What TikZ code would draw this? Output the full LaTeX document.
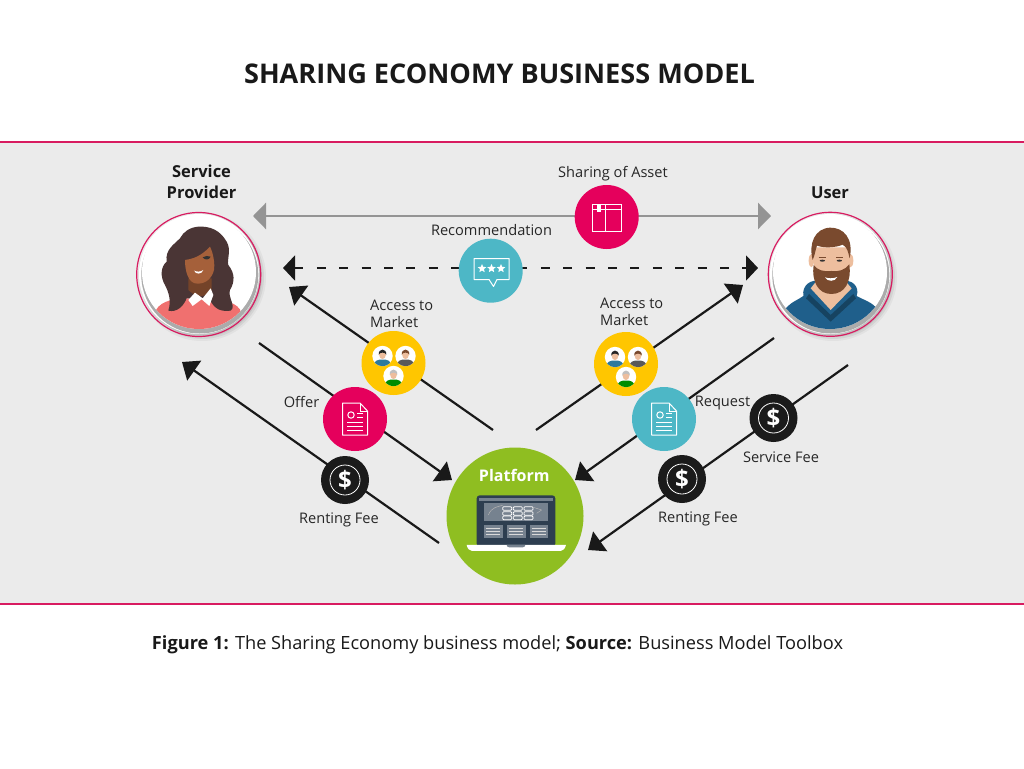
\documentclass[tikz,border=0pt]{standalone}
\usepackage{fontspec}
\setmainfont{Open Sans}
\usetikzlibrary{arrows.meta,shapes.geometric}
\definecolor{bandgray}{HTML}{EBEBEB}
\definecolor{linepink}{HTML}{D81B60}
\definecolor{iconpink}{HTML}{E5005C}
\definecolor{iconteal}{HTML}{4DB7C6}
\definecolor{iconyellow}{HTML}{FFC600}
\definecolor{icongreen}{HTML}{8FBE21}
\definecolor{iconblack}{HTML}{1B1B1B}
\definecolor{arrowgray}{HTML}{949494}
\definecolor{hairdark}{HTML}{4A3535}
\definecolor{skinbrown}{HTML}{A5603A}
\definecolor{blouse}{HTML}{F0706F}
\definecolor{hoodie}{HTML}{1F5F8B}
\definecolor{beard}{HTML}{7A4A2E}
\definecolor{skinlight}{HTML}{EDBE9E}
\definecolor{screendark}{HTML}{2D3E50}
\definecolor{screenpanel}{HTML}{76828F}
\tikzset{
  iconcircle/.style={circle,minimum size=64pt,inner sep=0pt,fill=#1},
  dollarcircle/.style={circle,minimum size=48pt,inner sep=0pt,fill=iconblack},
  label/.style={font=\fontsize{14.6}{17}\selectfont,text=black!85,inner sep=0pt},
  heading/.style={font=\fontsize{16.5}{21}\selectfont\bfseries,text=black!90,inner sep=0pt,align=center},
  flow/.style={line width=2.2pt,black!90,-{Triangle[length=15pt,width=24pt]}},
  iconline/.style={draw=white,line width=1pt},
  document icon/.pic={
    \draw[iconline,line join=round] (-12.5,-16) -- (5,-16) -- (12.5,-8) -- (12.5,16) -- (-12.5,16) -- cycle;
    \draw[iconline] (5,-16) -- (5,-8) -- (12.5,-8);
    \draw[iconline] (-4,-4) circle (3.2);
    \draw[iconline] (2,-5.5) -- (8,-5.5) (2,-2) -- (8,-2);
    \draw[iconline] (-8,3) -- (8,3) (-8,7) -- (8,7) (-8,11) -- (8,11);
  },
  dollar icon/.pic={
    \draw[white,line width=.8pt] (0,0) circle (15);
    \node[text=white,font=\fontsize{24}{24}\selectfont\bfseries,inner sep=0pt] (-sign) at (0,0) {\$};
  },
  small person/.pic={
    \fill[white] (0,0) circle (10.2);
    \begin{scope}
      \clip (0,0) circle (10.2);
      \fill[shirtcolor] (-9,11) .. controls (-9,4) and (-4,3.5) .. (0,3.5) .. controls (4,3.5) and (9,4) .. (9,11) -- cycle;
      \fill[skinlight] (0,-1.5) ellipse (3.4 and 4.6);
      \fill[haircolor] (-3.8,-1.5) .. controls (-4.2,-8) and (4.2,-8) .. (3.8,-1.5) .. controls (2.5,-4) and (-2.5,-4) .. (-3.8,-1.5) -- cycle;
    \end{scope}
  },
  market icon/.pic={
    \colorlet{shirtcolor}{hoodie!70!iconteal}\colorlet{haircolor}{black!85}
    \pic at (-11,-7) {small person};
    \colorlet{shirtcolor}{black!65}\colorlet{haircolor}{beard}
    \pic at (12,-7) {small person};
    \colorlet{shirtcolor}{green!55!black}\colorlet{haircolor}{black!25}
    \pic at (0,13) {small person};
  },
}
\begin{document}
\begin{tikzpicture}[x=1pt,y=-1pt]
  \useasboundingbox (0,0) rectangle (1024,768);
  \fill[white] (0,0) rectangle (1024,768);
  % band
  \fill[bandgray] (0,142) rectangle (1024,604);
  \draw[linepink,line width=1.6pt] (0,142) -- (1024,142);
  \draw[linepink,line width=1.6pt] (0,604) -- (1024,604);
  \node[font=\fontsize{27.1}{30}\selectfont\bfseries,text=black!90,inner sep=0pt] (title) at (499.5,74) {SHARING ECONOMY BUSINESS MODEL};
  \node[font=\fontsize{18.2}{20}\selectfont,text=black!90,inner sep=0pt] (caption) at (497.5,644.5) {\textbf{Figure 1:} The Sharing Economy business model; \textbf{Source:} Business Model Toolbox};

  % line ends
  \coordinate (assetleft) at (253,216);
  \coordinate (assetright) at (771,216);
  \coordinate (recleft) at (283,268);
  \coordinate (recright) at (758,268);
  \coordinate (accessLstart) at (493,430);
  \coordinate (accessLend) at (289,287);
  \coordinate (offerstart) at (259,343);
  \coordinate (offerend) at (452,480);
  \coordinate (rentLstart) at (439,543);
  \coordinate (rentLend) at (182,362);
  \coordinate (accessRstart) at (536,430);
  \coordinate (accessRend) at (743,285);
  \coordinate (requeststart) at (774,338);
  \coordinate (requestend) at (575,480);
  \coordinate (rentRstart) at (848,365);
  \coordinate (rentRend) at (588,550);

  % connectors
  \draw[line width=2.6pt,arrowgray,{Triangle[length=13pt,width=26pt]}-{Triangle[length=13pt,width=26pt]}] (assetleft) -- (assetright);
  \draw[line width=2.2pt,black!90,dash pattern=on 9pt off 13.4pt,{Triangle[length=12pt,width=25pt]}-{Triangle[length=12pt,width=25pt]}] (recleft) -- (recright);
  \draw[flow] (accessLstart) -- (accessLend);
  \draw[flow] (offerstart) -- (offerend);
  \draw[flow] (rentLstart) -- (rentLend);
  \draw[flow] (accessRstart) -- (accessRend);
  \draw[flow] (requeststart) -- (requestend);
  \draw[flow] (rentRstart) -- (rentRend);

  % service provider
  \foreach \r/\o in {64/.04,62/.06,60/.08}
    \fill[black,opacity=\o] (202,277) circle (\r);
  \fill[white] (199,274) circle (60);
  \fill[black!33] (199.8,275) circle (58.5);
  \node[circle,fill=white,minimum size=114pt,inner sep=0pt] (provider) at (199,272) {};
  \draw[linepink,line width=1.2pt] (198.7,274.5) circle (62);
  \begin{scope}
    \clip (199,272) circle (57);
    \begin{scope}[shift={(120,150)},scale=.3333]
      \fill[blouse] (108,480) .. controls (125,450) and (170,445) .. (205,445) -- (265,450) .. controls (310,450) and (355,455) .. (365,490) -- (385,600) -- (90,600) -- cycle;
      \fill[hairdark] (235,230) .. controls (270,228) and (300,240) .. (320,275) .. controls (335,300) and (320,330) .. (325,345) .. controls (345,370) and (345,395) .. (330,420) .. controls (322,440) and (350,470) .. (332,482) .. controls (305,485) and (285,480) .. (270,450) -- (200,445) .. controls (190,470) and (170,488) .. (145,482) .. controls (155,450) and (145,425) .. (135,405) .. controls (120,380) and (122,350) .. (140,335) .. controls (135,300) and (160,285) .. (180,265) .. controls (190,245) and (210,232) .. (235,230) -- cycle;
      \fill[skinbrown!70!black] (205,385) -- (275,385) -- (275,425) .. controls (250,445) and (225,440) .. (205,420) -- cycle;
      \fill[skinbrown] (195,330) .. controls (235,325) and (255,305) .. (270,290) .. controls (280,310) and (285,340) .. (282,360) .. controls (275,390) and (250,405) .. (225,400) .. controls (205,395) and (195,365) .. (195,330) -- cycle;
      \fill[white] (205,450) -- (225,428) -- (248,445) -- (272,415) -- (280,435) -- (268,468) -- (245,448) -- (218,468) -- cycle;
      \fill[white] (222,362) .. controls (230,366) and (243,366) .. (250,360) .. controls (245,374) and (228,374) .. (222,362) -- cycle;
      \fill[black!80] (248,322) .. controls (255,317) and (265,317) .. (272,320) .. controls (268,330) and (255,332) .. (248,322) -- cycle;
    \end{scope}
  \end{scope}

  % user
  \foreach \r/\o in {64/.04,62/.06,60/.08}
    \fill[black,opacity=\o] (833,277) circle (\r);
  \fill[white] (830,274) circle (60);
  \fill[black!33] (830.8,275) circle (58.5);
  \node[circle,fill=white,minimum size=114pt,inner sep=0pt] (user) at (830,272) {};
  \draw[linepink,line width=1.2pt] (830.3,274.3) circle (62);
  \begin{scope}
    \clip (830,272) circle (57);
    \begin{scope}[shift={(740,170)},scale=.3333]
      \fill[hoodie] (130,425) .. controls (150,395) and (175,390) .. (190,378) .. controls (185,345) and (215,325) .. (240,335) -- (305,335) .. controls (335,325) and (360,350) .. (350,378) .. controls (375,392) and (395,395) .. (415,420) -- (440,520) -- (100,520) -- cycle;
      \fill[skinlight] (212,355) -- (240,320) -- (305,320) -- (335,355) -- (272,420) -- cycle;
      \fill[hoodie!70!black] (207,372) -- (272,435) -- (340,372) -- (348,385) -- (272,455) -- (198,385) -- cycle;
      \fill[skinlight] (222,232) -- (328,232) -- (328,300) .. controls (325,345) and (225,345) .. (222,300) -- cycle;
      \fill[skinlight] (214,272) ellipse (8 and 20);
      \fill[skinlight] (332,272) ellipse (8 and 20);
      \fill[beard] (221,285) .. controls (232,300) and (250,306) .. (274,303) .. controls (295,306) and (316,300) .. (328,283) .. controls (335,335) and (315,372) .. (274,372) .. controls (235,372) and (214,335) .. (221,285) -- cycle;
      \fill[white] (255,322) .. controls (265,326) and (280,326) .. (292,321) .. controls (285,336) and (262,336) .. (255,322) -- cycle;
      \fill[beard] (218,270) .. controls (205,220) and (225,175) .. (270,173) .. controls (310,172) and (342,205) .. (329,265) .. controls (324,245) and (322,232) .. (308,224) .. controls (285,234) and (250,234) .. (231,227) .. controls (226,240) and (225,255) .. (218,270) -- cycle;
      \fill[black!80] (247,272) ellipse (8 and 3);
      \fill[black!80] (298,272) ellipse (8 and 3);
      \draw[beard,line width=1.2pt] (236,262) -- (258,262) (288,262) -- (310,262);
    \end{scope}
  \end{scope}

  % icon circles
  \node[iconcircle=iconpink] (asset) at (606.7,217) {};
  \node[iconcircle=iconteal] (recommendation) at (490.7,270.7) {};
  \node[iconcircle=iconyellow] (marketL) at (393.5,363) {};
  \node[iconcircle=iconyellow] (marketR) at (626,364) {};
  \node[iconcircle=iconpink] (offer) at (355,419) {};
  \node[iconcircle=iconteal] (request) at (664,419) {};
  \node[dollarcircle] (feeL) at (345,480) {};
  \node[dollarcircle] (feeR) at (682,479) {};
  \node[dollarcircle] (service) at (773.5,418) {};
  \node[circle,minimum size=137pt,inner sep=0pt,fill=icongreen] (platform) at (515,516) {};

  % icons
  \pic at (offer) {document icon};
  \pic at (request) {document icon};
  \pic (signL) at (feeL) {dollar icon};
  \pic (signR) at (feeR) {dollar icon};
  \pic (signS) at (service) {dollar icon};
  \pic at (marketL) {market icon};
  \pic at (marketR) {market icon};
  \draw[iconline] (592.5,204) rectangle (621,231);
  \draw[iconline] (592.5,209.5) -- (621,209.5) (605,204) -- (605,231);
  \fill[white] (597,204) rectangle (601,212);
  \draw[iconline,line join=round] (474,258.5) -- (509,258.5) -- (509,279.5) -- (497,279.5) -- (493.5,286.5) -- (489,279.5) -- (474,279.5) -- cycle;
  \foreach \i/\x in {1/482,2/491.5,3/501}
    \node[star,star points=5,star point ratio=2.2,fill=white,inner sep=0pt,minimum size=9pt] (recstar\i) at (\x,268.5) {};

  % laptop
  \begin{scope}[shift={(430,430)},scale=.3333]
    \fill[screendark,rounded corners=3pt] (140,196) rectangle (376,350);
    \fill[screenpanel] (148,203) rectangle (368,212);
    \fill[screenpanel] (163,220) rectangle (355,272);
    \foreach \x in {163,231,299}
      \fill[screenpanel] (\x,285) rectangle +(56,38);
    \foreach \x in {163,231,299}
      \foreach \y in {295,304,313}
        \draw[white!85!black,line width=.7pt] (\x+6,\y) -- (\x+48,\y);
    \foreach \x in {218,250,282}
      \foreach \y in {230,245,258}
        \draw[white,line width=.8pt,rounded corners=1pt] (\x,\y) rectangle +(27,11);
    \draw[black!30,line width=.5pt] (175,255) .. controls (185,230) and (205,230) .. (218,226) (310,232) -- (335,240) -- (320,250);
    \fill[white] (110,345) -- (408,345) .. controls (405,355) and (400,363) .. (392,363) -- (126,363) .. controls (118,363) and (112,355) .. (110,345) -- cycle;
    \fill[screenpanel] (230,345) -- (286,345) .. controls (285,350) and (282,352) .. (278,352) -- (238,352) .. controls (234,352) and (231,350) .. (230,345) -- cycle;
  \end{scope}

  % labels
  \node[heading] (providerlabel) at (201.5,181.5) {Service\\ Provider};
  \node[heading] (userlabel) at (830,192.5) {User};
  \node[font=\fontsize{16}{21}\selectfont\bfseries,text=white,inner sep=0pt] (platformlabel) at (514.3,475) {Platform};
  \node[label] (assetlabel) at (613,174) {Sharing of Asset};
  \node[label] (reclabel) at (491.5,230) {Recommendation};
  \node[label,anchor=west,align=left] (marketLlabel) at (370,314) {Access to\\ Market};
  \node[label,anchor=west,align=left] (marketRlabel) at (600,312) {Access to\\ Market};
  \node[label] (offerlabel) at (301.5,402) {Offer};
  \node[label] (requestlabel) at (722.5,403) {Request};
  \node[label] (feeLlabel) at (339,520) {Renting Fee};
  \node[label] (feeRlabel) at (698,519) {Renting Fee};
  \node[label] (servicelabel) at (781,457) {Service Fee};
\end{tikzpicture}
\end{document}
